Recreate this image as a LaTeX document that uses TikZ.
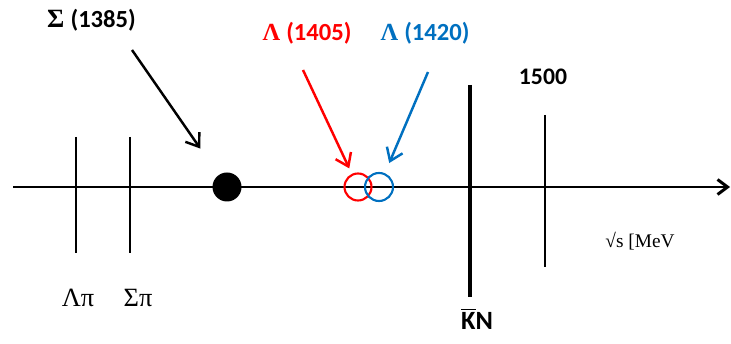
\documentclass[tikz,border=0pt]{standalone}
\usepackage{fontspec}
\setmainfont{Liberation Serif}
\newfontfamily\calib{Carlito}
\usetikzlibrary{arrows.meta}

\begin{document}
\begin{tikzpicture}[>={Straight Barb[length=2.4mm,width=3.4mm]}, line width=1.4pt]
        \colorlet{myred}{red}
        \colorlet{myblue}{rgb,255:red,0;green,112;blue,192}
        \useasboundingbox (0,0) rectangle (14.62,6.88);

        % axis and thresholds
        \draw[->, line width=1.7pt, >={Straight Barb[length=2mm,width=3mm]}] (0.26,3.14) -- (14.6,3.14);
        \draw[line width=1.2pt] (1.52,4.14) -- (1.52,1.82);
        \draw[line width=1.2pt] (2.6,4.14) -- (2.6,1.82);
        \draw[line width=2.2pt] (9.4,5.18) -- (9.4,0.94);
        \draw[line width=1.6pt] (10.9,4.58) -- (10.9,1.54);

        \node[font=\fontsize{15}{17}\selectfont] (lampi) at (1.56,0.92) {Λπ};
        \node[font=\fontsize{15}{17}\selectfont] (sigpi) at (2.76,0.92) {Σπ};
        \node[font=\calib\bfseries\fontsize{15}{17}\selectfont] (kbarn) at (9.54,0.5) {$\overline{\mbox{K}}$N};
        \node[font=\calib\bfseries\fontsize{13.5}{15}\selectfont] (mass) at (10.86,5.34) {1500};
        \node[font=\fontsize{11}{13}\selectfont] (unit) at (12.8,2.06) {√s [MeV};

        % resonances
        \node[circle, fill=black, inner sep=0pt, minimum size=0.58cm] (dot) at (4.54,3.14) {};
        \node[circle, draw=myred, line width=1.2pt, inner sep=0pt, minimum size=0.54cm] (reso1) at (7.16,3.14) {};
        \node[circle, draw=myblue, line width=1.2pt, inner sep=0pt, minimum size=0.56cm] (reso2) at (7.58,3.14) {};

        \node[font=\bfseries\fontsize{14}{16}\selectfont] (sigma) at (1.83,6.48) {{\fontsize{15}{16}\selectfont Σ} {\calib(1385)}};
        \node[text=myred, font=\bfseries\fontsize{14}{16}\selectfont] (lam1) at (6.14,6.22) {Λ {\calib(1405)}};
        \node[text=myblue, font=\bfseries\fontsize{14}{16}\selectfont] (lam2) at (8.5,6.22) {Λ {\calib(1420)}};

        \coordinate (sigtail) at (2.64,5.88);
        \coordinate (lam1tail) at (6.06,5.48);
        \coordinate (lam2tail) at (8.56,5.44);

        \draw[->, shorten >=0.62cm] (sigtail) -- (dot);
        \draw[->, myred, shorten >=0.12cm] (lam1tail) -- (reso1);
        \draw[->, myblue, shorten >=0.22cm] (lam2tail) -- (reso2);
    \end{tikzpicture}
\end{document}
